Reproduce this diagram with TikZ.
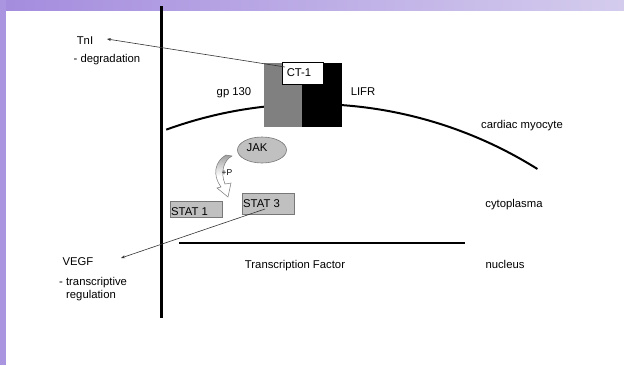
\documentclass[tikz,border=0pt]{standalone}
\usepackage{fontspec}
\setmainfont{Liberation Sans}
\usetikzlibrary{arrows.meta}
\definecolor{bandL}{RGB}{164,140,222}
\definecolor{bandR}{RGB}{212,204,237}
\definecolor{stripC}{RGB}{170,150,224}
\definecolor{protein}{RGB}{192,192,192}
\definecolor{edgeC}{RGB}{120,120,120}
\definecolor{gpgray}{RGB}{128,128,128}
\begin{document}
\begin{tikzpicture}[x=1pt,y=-1pt,
  font=\fontsize{11.3}{13}\selectfont,
  lbl/.style={inner sep=0pt, anchor=base},
  lblw/.style={inner sep=0pt, anchor=base west},
  protbox/.style={fill=protein, draw=edgeC, line width=0.6pt, inner sep=0pt},
  signal/.style={draw=black!80, line width=0.6pt, -{Stealth[length=4pt,width=3pt]}},
  wall/.style={line width=3pt},
  memb/.style={line width=2pt}]
\useasboundingbox (0,0) rectangle (624,365);
\fill[white] (0,0) rectangle (624,365);
% slide decoration: top band and left strip
\shade[left color=bandL, right color=bandR] (0,0) rectangle (624,10);
\fill[stripC] (0,0) rectangle (6,365);

% cell wall (vertical) and nuclear envelope
\draw[wall] (161.5,6) -- (161.5,318);
\draw[memb] (179,243) -- (465,243);

% plasma membrane arc
\draw[memb] plot[domain=110:57.9, samples=60, smooth, variable=\t]
  ({311.6+425*cos(\t)},{529-425*sin(\t)});

% receptor complex
\node[fill=gpgray, minimum width=38pt, minimum height=64pt, inner sep=0pt] (gp) at (283,95) {};
\node[fill=black, minimum width=40pt, minimum height=64pt, inner sep=0pt] (lifr) at (322,95) {};
\node[fill=white, draw=black, line width=0.8pt, minimum width=41pt, minimum height=22pt, inner sep=0pt] (ct) at (302.5,73) {};
\node[lbl] (ctl) at (299,76) {CT-1};
\node[lbl] (gpl) at (234,95) {gp 130};
\node[lbl] (lifrl) at (363,95) {LIFR};

% JAK kinase
\draw[protbox] (262,150) ellipse [x radius=24.5, y radius=13];
\node[lbl] (jak) at (257,151) {JAK};

% phosphorylation arrow
\shade[top color=gray!75, bottom color=white, middle color=white, draw=edgeC, line width=0.5pt]
  (226,155) -- (232,156)
  .. controls (224,160) and (220,172) .. (225,184)
  -- (231,183) -- (228,197) -- (217,188) -- (221,187)
  .. controls (212,175) and (215,161) .. (226,155) -- cycle;
\node[inner sep=0pt, anchor=base, font=\fontsize{8.5}{10}\selectfont] (plusP) at (227,175) {+P};

% STAT proteins
\node[protbox, minimum width=52pt, minimum height=16pt] (stat1) at (196,209) {};
\node[lblw] (stat1l) at (171,215) {STAT 1};
\node[protbox, minimum width=52pt, minimum height=21pt] (stat3) at (268,203.5) {};
\node[lblw] (stat3l) at (243,207) {STAT 3};

% compartment labels
\node[lbl] (cardiac) at (522,128) {cardiac myocyte};
\node[lbl] (cyto) at (514,207) {cytoplasma};
\node[lbl] (nucl) at (505,268) {nucleus};
\node[lbl] (tf) at (295,268) {Transcription Factor};

% targets
\node[lbl] (tni) at (85,44) {TnI};
\node[lbl] (degr) at (107,62) {- degradation};
\node[lbl] (vegf) at (78,265) {VEGF};
\node[lblw] (transc) at (59,285) {- transcriptive};
\node[lblw] (regul) at (66,298) {regulation};

% signalling connectors
\coordinate (ctfoot) at (285,67);
\coordinate (tnitip) at (107,39);
\coordinate (stat3foot) at (265,209);
\coordinate (vegftip) at (121,258);
\draw[signal] (ctfoot) -- (tnitip);
\draw[signal] (stat3foot) -- (vegftip);
\end{tikzpicture}
\end{document}
